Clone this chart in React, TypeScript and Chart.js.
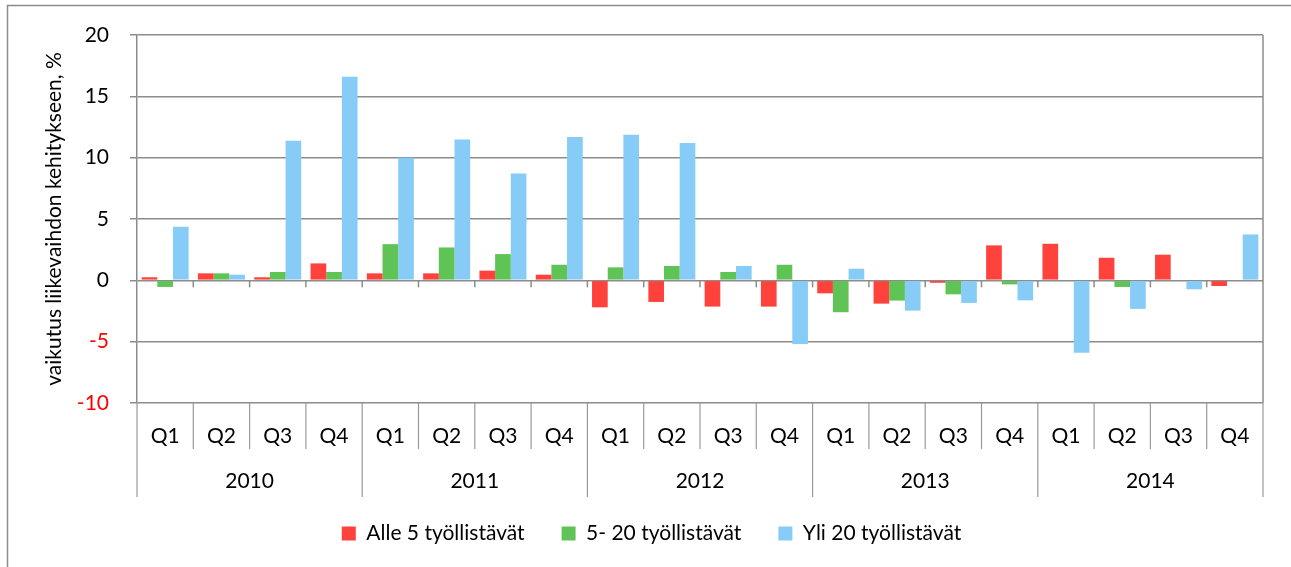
import React, { useEffect, useRef } from "react";
import { Chart, registerables } from "chart.js";

Chart.register(...registerables);

const years = ["2010", "2011", "2012", "2013", "2014"];
const quarters = ["Q1", "Q2", "Q3", "Q4"];
const categories = years.flatMap((y) => quarters.map((q) => q));

const seriesNames = ["Alle 5 työllistävät", "5- 20 työllistävät", "Yli 20 työllistävät"];
const alle5 = [0.25, 0.57, 0.25, 1.38, 0.57, 0.57, 0.79, 0.46, -2.2, -1.76, -2.14, -2.14, -1.06, -1.9, -0.2, 2.85, 2.98, 1.84, 2.09, -0.46];
const v5_20 = [-0.54, 0.57, 0.68, 0.68, 2.95, 2.68, 2.14, 1.27, 1.06, 1.17, 0.68, 1.27, -2.6, -1.65, -1.14, -0.33, 0, -0.54, 0, 0];
const yli20 = [4.37, 0.46, 11.38, 16.6, 10.0, 11.49, 8.7, 11.68, 11.87, 11.2, 1.17, -5.2, 0.95, -2.47, -1.84, -1.63, -5.9, -2.33, -0.73, 3.74];
const colors = ["#FF423B", "#60C356", "#87CCF7"];

const yMin = -10;
const yMax = 20;
const yStep = 5;

const FONT = "Lato";
const FS = 21;
const GRID = "#8c8c8c";

const decorPlugin = {
  id: "decor",
  afterDraw(chart: any) {
    const { ctx, chartArea } = chart;
    const x = chart.scales.x;
    const y = chart.scales.y;
    const n = categories.length;
    const w = x.getPixelForValue(1) - x.getPixelForValue(0);
    ctx.save();
    ctx.strokeStyle = GRID;
    ctx.lineWidth = 1.5;
    // outer border (right/bottom edges lie outside the picture)
    ctx.strokeRect(7.5, 5.5, chart.width + 20, chart.height + 20);
    // right plot border
    ctx.beginPath();
    ctx.moveTo(chartArea.right, chartArea.top);
    ctx.lineTo(chartArea.right, chartArea.bottom);
    ctx.stroke();
    // separators under the chart area
    const y0 = y.getPixelForValue(0);
    ctx.lineWidth = 1.2;
    ctx.strokeStyle = "#9a9a9a";
    for (let i = 0; i <= n; i++) {
      const bx = x.getPixelForValue(i) - w / 2;
      const long = i % quarters.length === 0;
      ctx.beginPath();
      ctx.moveTo(bx, chartArea.bottom);
      ctx.lineTo(bx, chartArea.bottom + (long ? 94 : 46));
      ctx.stroke();
    }
    // small ticks on zero line
    ctx.strokeStyle = GRID;
    ctx.lineWidth = 1.5;
    for (let i = 1; i < n; i++) {
      const bx = x.getPixelForValue(i) - w / 2;
      ctx.beginPath();
      ctx.moveTo(bx, y0);
      ctx.lineTo(bx, y0 + 7);
      ctx.stroke();
    }
    // year labels
    ctx.fillStyle = "#000";
    ctx.font = `${FS}px ${FONT}`;
    ctx.textAlign = "center";
    ctx.textBaseline = "middle";
    years.forEach((yr, k) => {
      const a = x.getPixelForValue(k * quarters.length);
      const b = x.getPixelForValue(k * quarters.length + quarters.length - 1);
      ctx.fillText(yr, (a + b) / 2, chartArea.bottom + 78);
    });
    ctx.restore();
  },
};

export default function App() {
  const ref = useRef<HTMLCanvasElement>(null);
  useEffect(() => {
    document.body.style.margin = "0";
    const chart = new Chart(ref.current!, {
      type: "bar",
      data: {
        labels: categories,
        datasets: [alle5, v5_20, yli20].map((d, i) => ({
          label: seriesNames[i],
          data: d,
          backgroundColor: colors[i],
          borderWidth: 0,
          categoryPercentage: 0.835,
          barPercentage: 1.0,
        })),
      },
      options: {
        responsive: false,
        animation: false,
        layout: { padding: { left: 40, right: 28, top: 35, bottom: 13 } },
        plugins: {
          tooltip: { enabled: false },
          legend: {
            position: "bottom",
            labels: {
              font: { family: FONT, size: FS },
              color: "#000",
              boxWidth: 14,
              boxHeight: 14,
              padding: 37,
            },
          },
        },
        scales: {
          x: {
            offset: true,
            grid: { display: false },
            border: { display: false },
            ticks: {
              font: { family: FONT, size: FS },
              color: "#000",
              padding: 13,
              maxRotation: 0,
              autoSkip: false,
            },
            afterFit: (s: any) => {
              s.height = 83;
            },
          },
          y: {
            min: yMin,
            max: yMax,
            ticks: {
              stepSize: yStep,
              font: { family: FONT, size: FS },
              color: (c: any) => (c.tick && c.tick.value < 0 ? "#FF0000" : "#000"),
              padding: 21,
            },
            grid: { color: GRID, lineWidth: 1.5, tickLength: 7 },
            border: { display: true, color: GRID, width: 1.5 },
            title: {
              display: true,
              text: "vaikutus liikevaihdon kehitykseen, %",
              font: { family: FONT, size: FS },
              color: "#000",
              padding: { top: 2, bottom: 0 },
            },
            afterFit: (s: any) => {
              s.width = 97;
            },
          },
        },
      },
      plugins: [decorPlugin],
    });
    return () => chart.destroy();
  }, []);
  return <canvas ref={ref} width={1291} height={567} style={{ display: "block" }} />;
}
